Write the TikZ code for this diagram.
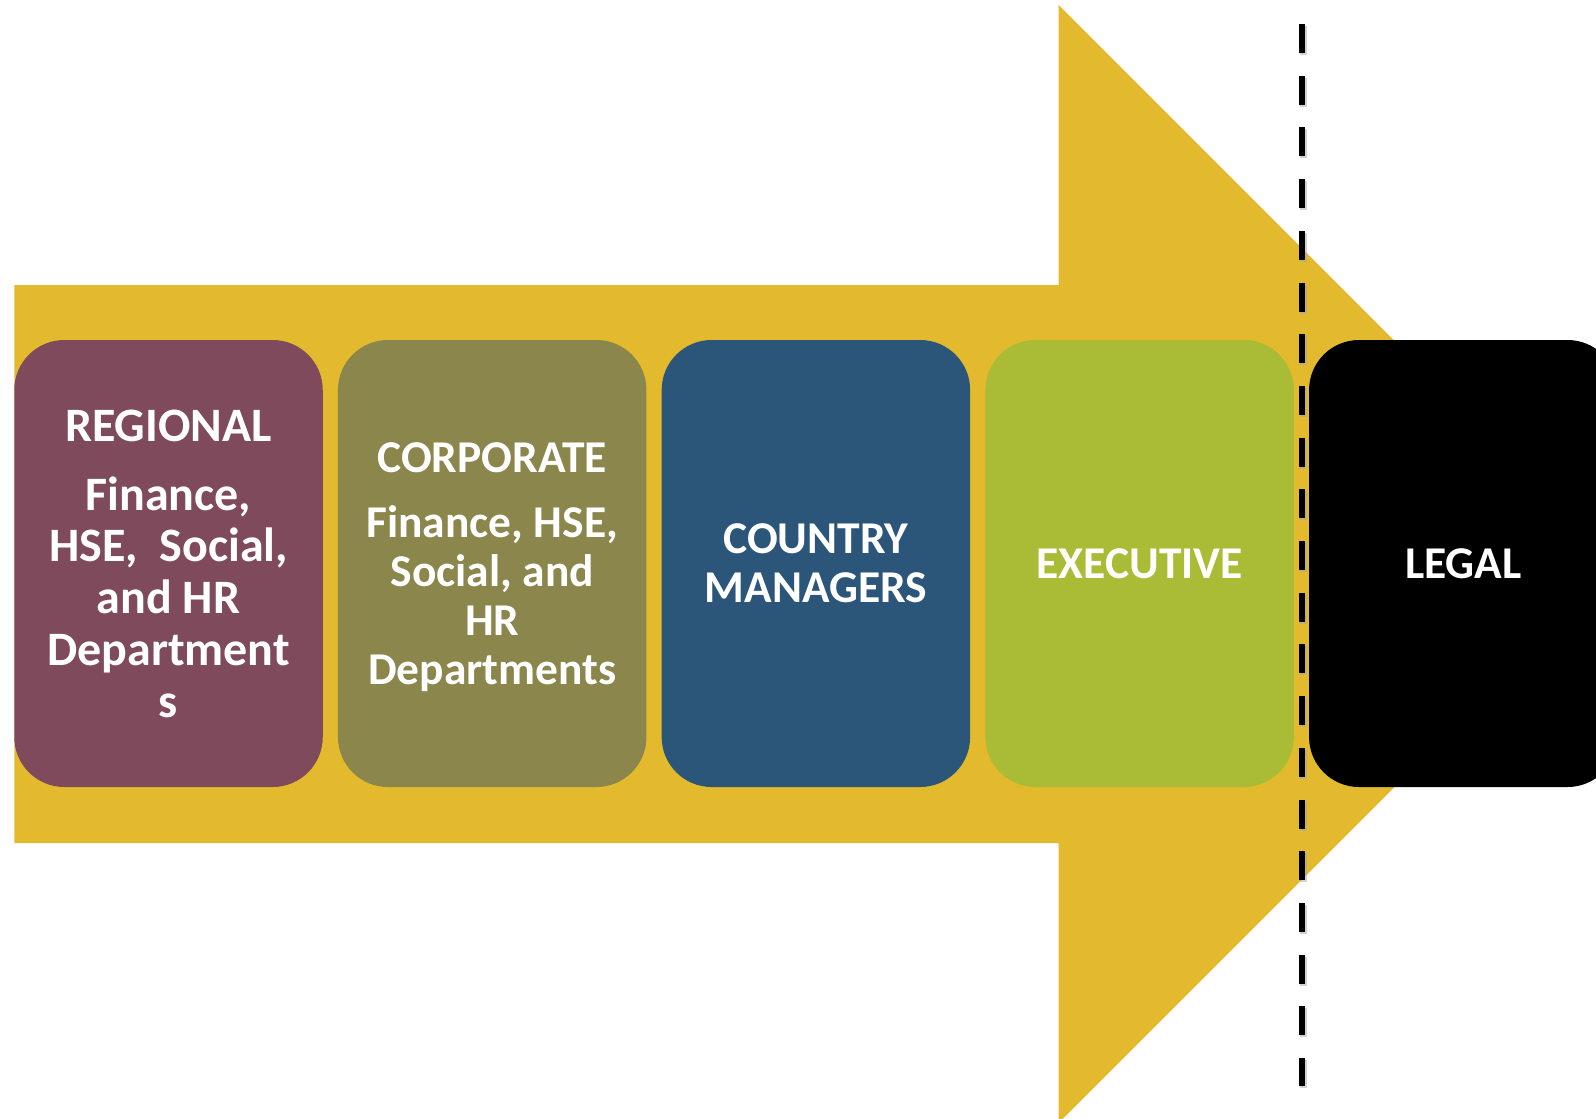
\documentclass[tikz,border=0pt]{standalone}
\usepackage{fontspec}
\setmainfont{Carlito}
\definecolor{arrowyellow}{HTML}{E3BA2D}
\definecolor{regcol}{HTML}{7F4B5C}
\definecolor{corpcol}{HTML}{8A864C}
\definecolor{countrycol}{HTML}{2C557A}
\definecolor{execcol}{HTML}{AABB35}
\tikzset{
  stagebox/.style={rectangle, rounded corners=50pt, minimum width=308.5pt,
    minimum height=447pt, inner sep=0pt, text=white, align=center,
    font=\fontsize{45.5}{49}\selectfont\bfseries},
  stagetext/.style={inner sep=0pt, text=white, align=center,
    font=\fontsize{45.5}{49}\selectfont\bfseries},
  bigtext/.style={font=\fontsize{48}{51.7}\selectfont\bfseries},
  divider/.style={line width=6.5pt, dash pattern=on 29pt off 22.7pt}
}
\begin{document}
\begin{tikzpicture}[x=1pt,y=-1pt]
\useasboundingbox (0,0) rectangle (1596,1119);
\clip (0,0) rectangle (1596,1119);
% big arrow
\fill[arrowyellow] (14.3,285) -- (1058.6,285) -- (1058.6,5) -- (1617.6,564)
  -- (1058.6,1123) -- (1058.6,843) -- (14.3,843) -- cycle;
% dashed divider with light shadow
\coordinate (dtop) at (1302,24);
\coordinate (dbot) at (1302,1086);
\draw[divider, black!35, opacity=0.5] ([xshift=1.5pt,yshift=-2pt]dtop) -- ([xshift=1.5pt,yshift=-2pt]dbot);
\draw[divider] (dtop) -- (dbot);
% stages
\node[stagebox, bigtext, fill=regcol] (regional) at (168.5,563.5)
  {REGIONAL\\[17.5pt]Finance,\\HSE,\ \ Social,\\and HR\\Department\\s};
\node[stagebox, fill=corpcol] (corporate) at (492.2,563.5) {};
\node[stagetext] (corporatetext) at ([yshift=-4pt]corporate.center)
  {CORPORATE\\[16pt]Finance, HSE,\\Social, and\\HR\\Departments};
\node[stagebox, fill=countrycol] (country) at (815.9,563.5)
  {COUNTRY\\MANAGERS};
\node[stagebox, fill=execcol] (executive) at (1139.6,563.5) {EXECUTIVE};
\node[stagebox, fill=black] (legal) at (1463.3,563.5) {LEGAL};
\end{tikzpicture}
\end{document}
